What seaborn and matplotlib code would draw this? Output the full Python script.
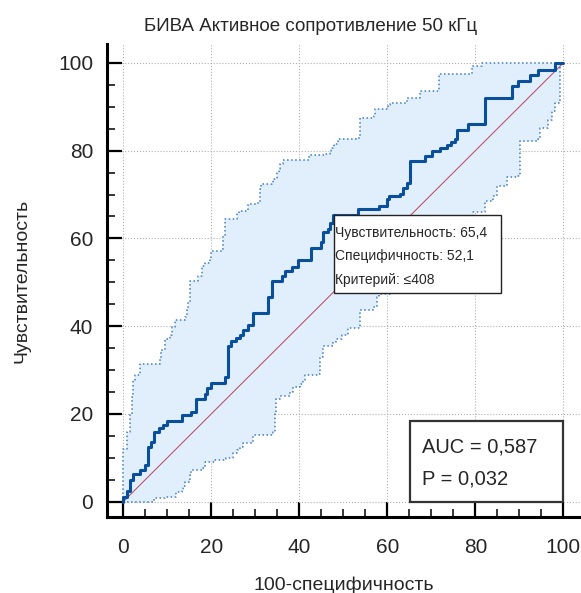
import numpy as np
import matplotlib
matplotlib.use('Agg')
import matplotlib.pyplot as plt
from matplotlib import font_manager
from matplotlib.patches import Rectangle
import seaborn as sns

# ROC curve (100-specificity, sensitivity), step corners
roc_fpr = [0, 0, 0.8, 1.5, 2.3, 3.9, 4.9, 5.7, 6.4, 7.0, 8.2, 9.1, 10.0, 13.3, 15.5, 16.5, 18.6, 19.1, 19.9, 23.1,
           23.9, 24.6, 25.6, 26.5, 27.3, 28.3, 29.5, 33.0, 33.7, 36.0, 36.7, 38.4, 39.8, 42.6, 45.0, 45.5, 46.6, 47.0,
           47.7, 53.4, 58.0, 59.9, 60.3, 62.9, 63.6, 64.4, 65.1, 68.5, 70.1, 72.0, 73.5, 74.5, 75.4, 75.8, 78.4, 82.2,
           88.3, 89.8, 92.5, 94.3, 98.1, 100]
roc_tpr = [0, 1.1, 2.4, 4.9, 6.3, 7.3, 8.3, 12.5, 13.5, 15.9, 16.7, 17.4, 18.4, 19.7, 20.5, 23.3, 24.6, 25.9, 27.0, 28.4,
           35.6, 36.7, 37.3, 38.1, 39.2, 40.3, 42.9, 46.6, 50.4, 51.5, 52.5, 53.5, 55.0, 57.9, 59.1, 61.4, 62.1, 63.6,
           65.4, 66.7, 67.4, 68.9, 69.6, 70.1, 71.5, 72.7, 77.6, 78.8, 79.9, 80.7, 81.4, 82.0, 82.6, 84.8, 86.0, 92.0,
           94.7, 95.8, 97.3, 98.3, 100, 100]

# 95% confidence bounds
upper_fpr = [0, 0, 0.8, 1.5, 1.9, 2.3, 2.7, 3.8, 8.3, 8.7, 9.5, 10.6, 11.0, 11.7, 14.0, 14.4, 14.8, 15.2, 16.9, 17.8,
             18.6, 19.7, 19.9, 22.4, 22.7, 23.1, 25.8, 26.2, 28.4, 30.7, 31.1, 31.4, 33.7, 34.1, 34.9, 35.3, 35.6, 36.4,
             42.1, 45.8, 46.9, 47.3, 47.7, 48.0, 48.7, 53.0, 53.8, 57.0, 57.3, 60.2, 60.6, 64.4, 67.4, 71.8, 79.2, 81.4, 100]
upper_tpr = [0, 12.0, 15.9, 20.1, 23.9, 27.7, 28.8, 31.4, 32.8, 34.5, 37.1, 37.9, 39.8, 41.3, 42.0, 43.6, 45.5, 50.4,
             51.5, 53.8, 54.5, 55.3, 57.2, 57.6, 60.6, 64.4, 65.5, 66.3, 67.8, 68.2, 71.2, 72.3, 72.7, 73.6, 74.8, 75.9,
             76.9, 77.9, 78.9, 79.2, 79.9, 80.5, 80.9, 81.5, 82.6, 83.0, 87.5, 87.9, 89.5, 90.4, 90.8, 91.9, 93.6, 97.5,
             99.2, 100, 100]
lower_fpr = [0, 7.0, 9.5, 12.1, 13.3, 13.7, 14.1, 15.2, 15.5, 18.2, 18.6, 20.8, 23.3, 25.0, 25.8, 26.5, 27.3, 29.5,
             34.1, 34.5, 34.8, 35.6, 37.9, 38.5, 40.2, 40.9, 41.3, 44.3, 44.7, 45.5, 47.7, 48.3, 49.6, 51.1, 53.9, 56.8,
             57.6, 58.0, 60.5, 63.5, 66.5, 70.0, 73.0, 76.0, 78.0, 79.5, 82.1, 84.1, 84.9, 87.1, 89.8, 90.2, 94.2, 94.6,
             96.6, 97.4, 98.1, 98.9, 99.3, 100]
lower_tpr = [0, 0.8, 1.1, 2.3, 2.8, 3.6, 4.6, 6.1, 7.2, 7.8, 9.1, 9.5, 10.0, 11.0, 11.7, 12.5, 13.3, 15.2, 15.9, 20.1,
             23.5, 24.2, 25.0, 26.1, 26.9, 27.7, 28.8, 29.2, 33.0, 35.6, 36.4, 37.1, 37.9, 39.6, 43.6, 44.3, 46.6, 47.3,
             50.0, 53.0, 56.0, 59.0, 62.0, 64.0, 65.2, 66.0, 68.6, 69.7, 72.0, 73.9, 74.2, 82.2, 82.6, 85.2, 87.1, 89.0,
             90.9, 91.3, 100, 100]

sens, spec, criterion = 65.4, 52.1, 408
auc, p_value = 0.587, 0.032

title = "БИВА Активное сопротивление 50 кГц"
xlabel = "100-специфичность"
ylabel = "Чувствительность"
ticks = [0, 20, 40, 60, 80, 100]

sns.set_theme(style="white")
avail = {f.name for f in font_manager.fontManager.ttflist}
narrow = [f for f in ['Liberation Sans Narrow', 'Arial Narrow', 'Liberation Sans'] if f in avail]
plt.rcParams['font.family'] = narrow + ['DejaVu Sans']


def steps(x, y):
    # expand to explicit step-post vertices
    xs, ys = [x[0]], [y[0]]
    for i in range(1, len(x)):
        xs += [x[i], x[i]]
        ys += [y[i - 1], y[i]]
    return np.array(xs), np.array(ys)


fig = plt.figure(figsize=(5.81, 5.93), dpi=100)
ax = fig.add_axes([0.184, 0.128, 0.816, 0.797])

ux, uy = steps(upper_fpr, upper_tpr)
lx, ly = steps(lower_fpr, lower_tpr)
ax.fill(np.concatenate([ux, lx[::-1]]), np.concatenate([uy, ly[::-1]]), color='#e1effd', lw=0, zorder=1)
ax.plot(ux, uy, ls=':', color='#3f7cc4', lw=1.1, zorder=2)
ax.plot(lx, ly, ls=':', color='#3f7cc4', lw=1.1, zorder=2)
ax.plot([0, 100], [0, 100], color='#b8405e', lw=0.7, zorder=3)
sns.lineplot(x=roc_fpr, y=roc_tpr, sort=False, estimator=None, drawstyle='steps-post',
             color='#0a4f9c', lw=2.2, ax=ax, zorder=4)

ax.set_xlim(-3.7, 104.0)
ax.set_ylim(-3.5, 104.2)
ax.set_xticks(ticks)
ax.set_yticks(ticks)
ax.set_xticks(np.arange(0, 101, 5), minor=True)
ax.set_yticks(np.arange(0, 101, 5), minor=True)
ax.grid(True, which='major', ls=':', color='#b0b0b0', lw=0.8)
ax.tick_params(which='major', direction='in', length=11, width=1.6, color='black',
               labelsize=15, pad=15, left=True, bottom=True)
ax.tick_params(which='minor', direction='in', length=6, width=1.1, color='black', left=True, bottom=True)
ax.tick_params(axis='y', pad=10)
for s in ['top', 'right']:
    ax.spines[s].set_visible(False)
for s in ['left', 'bottom']:
    ax.spines[s].set_color('black')
    ax.spines[s].set_linewidth(2.2)

ax.set_xlabel(xlabel, fontsize=14, labelpad=14)
ax.set_ylabel(ylabel, fontsize=14, labelpad=20)
ax.set_title(title, fontsize=13.5, pad=10, x=0.43)

# criterion box
bx, by = 100 - spec, sens
ax.add_patch(Rectangle((bx, by - 17.8), 38.0, 17.8, facecolor='white', edgecolor='#222222', lw=1.0, zorder=6))
info = [f"Чувствительность: {sens:.1f}".replace('.', ','),
        f"Специфичность: {spec:.1f}".replace('.', ','),
        f"Критерий: ≤{criterion}"]
for i, line in enumerate(info):
    ax.text(bx + 0.2, by - 4.1 - i * 5.35, line, fontsize=10, va='center', ha='left', zorder=7)

# AUC box
ax.add_patch(Rectangle((65.2, 0), 34.8, 18.3, facecolor='white', edgecolor='#333333', lw=1.6, zorder=6))
ax.text(67.8, 12.4, f"AUC = {auc:.3f}".replace('.', ','), fontsize=14.5, va='center', ha='left', zorder=7)
ax.text(67.8, 5.1, f"P = {p_value:.3f}".replace('.', ','), fontsize=14.5, va='center', ha='left', zorder=7)

fig.savefig('out.png', dpi=100)
